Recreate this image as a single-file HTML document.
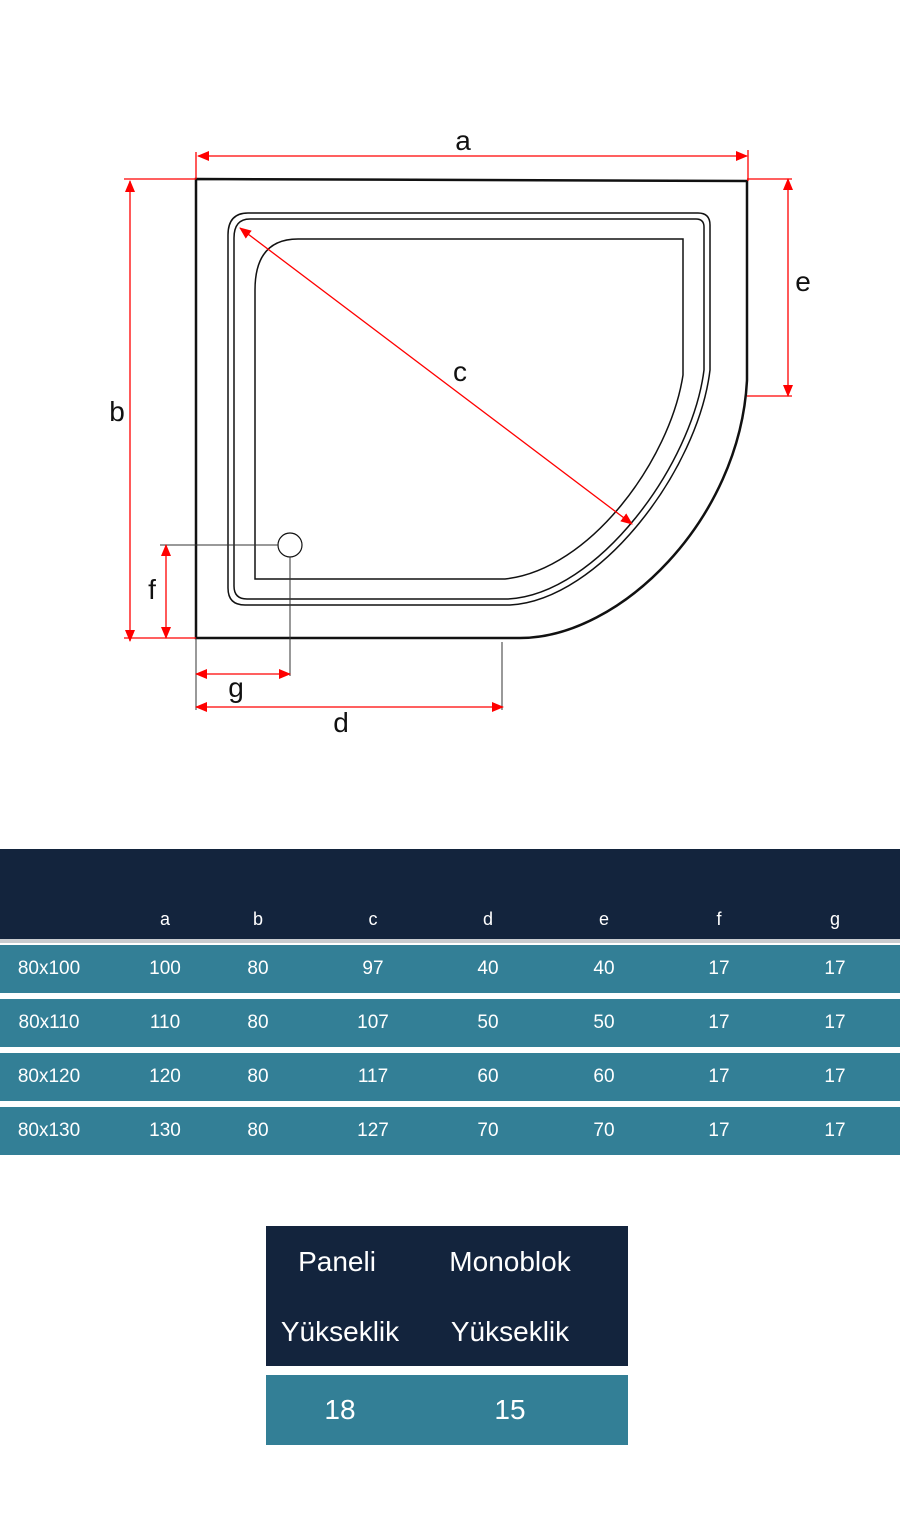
<!DOCTYPE html>
<html><head><meta charset="utf-8"><style>
body{margin:0;width:900px;height:1535px;background:#fff;position:relative;font-family:"Liberation Sans",sans-serif;overflow:hidden}
.abs{position:absolute}
.row{position:absolute;left:0;width:900px;height:48px;background:#337f96;color:#fff;font-size:19px}
.c{position:absolute;top:0;line-height:48px;transform:translateX(-50%)}
</style></head><body>
<svg class="abs" style="left:0;top:0" width="900" height="800">
<defs><marker id="ar" markerWidth="12" markerHeight="10" refX="11" refY="5" orient="auto-start-reverse" markerUnits="userSpaceOnUse"><path d="M0,0 L12,5 L0,10 Z" fill="#f00"/></marker></defs>
<g fill="none" stroke="#111">
<path d="M196,179 L747,181 L747,380 C740,520 620,638 520,638 L196,638 Z" stroke-width="2.5"/>
<path d="M248,213 L698,213 Q710,213 710,225 L710,370 C698,470 600,600 510,605 L245,605 Q228,605 228,588 L228,235 Q228,213 248,213 Z" stroke-width="1.5"/>
<path d="M250,219 L696,219 Q704,219 704,227 L704,370 C692,465 598,594 508,599 L247,599 Q234,599 234,586 L234,238 Q234,219 250,219 Z" stroke-width="1.5"/>
<path d="M298,239 L683,239 L683,375 C670,460 590,570 505,579 L255,579 L255,290 Q255,239 298,239 Z" stroke-width="1.5"/>
<circle cx="290" cy="545" r="12" stroke-width="1.2"/>
<path d="M160,545 L278,545 M290,557 L290,676 M502,642 L502,710 M196,638 L196,710" stroke-width="1" stroke="#333"/>
</g>
<g stroke="#f00" stroke-width="1.3" fill="none">
<path d="M196,152 V179 M748,150 V181 M124,179 H196 M124,638 H196 M747,179 H792 M747,396 H792 M160,638 H196"/>
<line x1="198" y1="156" x2="747" y2="156" marker-start="url(#ar)" marker-end="url(#ar)"/>
<line x1="130" y1="181" x2="130" y2="641" marker-start="url(#ar)" marker-end="url(#ar)"/>
<line x1="788" y1="179" x2="788" y2="396" marker-start="url(#ar)" marker-end="url(#ar)"/>
<line x1="240" y1="228" x2="632" y2="524" marker-start="url(#ar)" marker-end="url(#ar)"/>
<line x1="166" y1="545" x2="166" y2="638" marker-start="url(#ar)" marker-end="url(#ar)"/>
<line x1="196" y1="674" x2="290" y2="674" marker-start="url(#ar)" marker-end="url(#ar)"/>
<line x1="196" y1="707" x2="503" y2="707" marker-start="url(#ar)" marker-end="url(#ar)"/>
</g>
<g font-size="28" fill="#111" text-anchor="middle" font-family="Liberation Sans,sans-serif">
<text x="463" y="150">a</text><text x="117" y="421">b</text><text x="460" y="381">c</text>
<text x="803" y="291">e</text><text x="152" y="599">f</text><text x="236" y="697">g</text><text x="341" y="732">d</text>
</g>
</svg>
<div class="abs" style="left:0;top:849px;width:900px;height:90px;background:#13243d;color:#fff;font-size:18px">
<span class="c" style="left:165px;top:46px">a</span><span class="c" style="left:258px;top:46px">b</span><span class="c" style="left:373px;top:46px">c</span><span class="c" style="left:488px;top:46px">d</span><span class="c" style="left:604px;top:46px">e</span><span class="c" style="left:719px;top:46px">f</span><span class="c" style="left:835px;top:46px">g</span>
</div>
<div class="abs" style="left:0;top:939px;width:900px;height:4px;background:#c8ccd0"></div>
<div class="row" style="top:945px"><span class="c" style="left:49px">80x100</span><span class="c" style="left:165px">100</span><span class="c" style="left:258px">80</span><span class="c" style="left:373px">97</span><span class="c" style="left:488px">40</span><span class="c" style="left:604px">40</span><span class="c" style="left:719px">17</span><span class="c" style="left:835px">17</span></div>
<div class="row" style="top:999px"><span class="c" style="left:49px">80x110</span><span class="c" style="left:165px">110</span><span class="c" style="left:258px">80</span><span class="c" style="left:373px">107</span><span class="c" style="left:488px">50</span><span class="c" style="left:604px">50</span><span class="c" style="left:719px">17</span><span class="c" style="left:835px">17</span></div>
<div class="row" style="top:1053px"><span class="c" style="left:49px">80x120</span><span class="c" style="left:165px">120</span><span class="c" style="left:258px">80</span><span class="c" style="left:373px">117</span><span class="c" style="left:488px">60</span><span class="c" style="left:604px">60</span><span class="c" style="left:719px">17</span><span class="c" style="left:835px">17</span></div>
<div class="row" style="top:1107px"><span class="c" style="left:49px">80x130</span><span class="c" style="left:165px">130</span><span class="c" style="left:258px">80</span><span class="c" style="left:373px">127</span><span class="c" style="left:488px">70</span><span class="c" style="left:604px">70</span><span class="c" style="left:719px">17</span><span class="c" style="left:835px">17</span></div>
<div class="abs" style="left:266px;top:1226px;width:362px;height:140px;background:#13243d;color:#fff;font-size:28px">
<span class="c" style="left:71px;top:18px;line-height:36px">Paneli</span><span class="c" style="left:244px;top:18px;line-height:36px">Monoblok</span>
<span class="c" style="left:74px;top:88px;line-height:36px">Yükseklik</span><span class="c" style="left:244px;top:88px;line-height:36px">Yükseklik</span>
</div>
<div class="abs" style="left:266px;top:1375px;width:362px;height:70px;background:#337f96;color:#fff;font-size:28px">
<span class="c" style="left:74px;line-height:70px">18</span><span class="c" style="left:244px;line-height:70px">15</span>
</div>
</body></html>
